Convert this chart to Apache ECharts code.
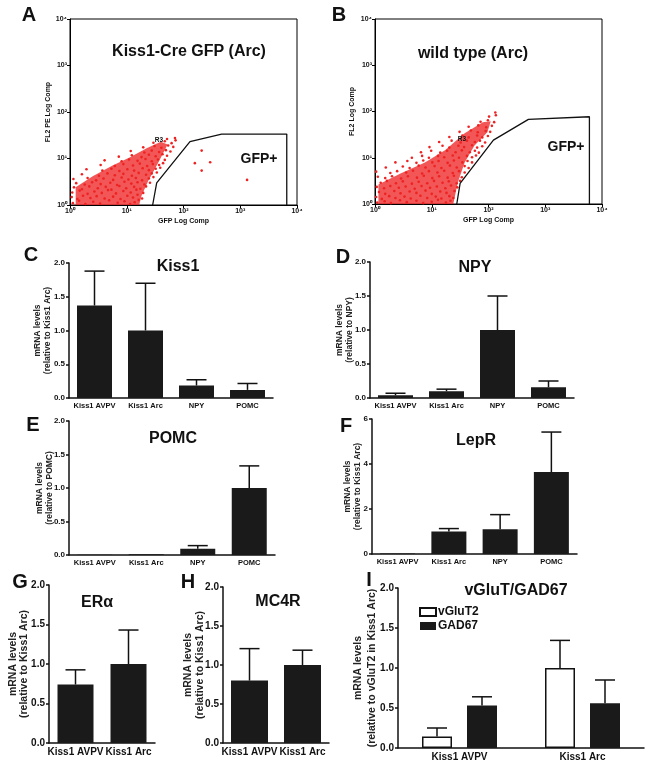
<!DOCTYPE html>
<html><head><meta charset="utf-8">
<script src="https://cdn.jsdelivr.net/npm/echarts@6/dist/echarts.min.js"></script>
<style>html,body{margin:0;padding:0;background:#fff}#c{width:649px;height:767px}</style>
</head><body><div id="c"></div>
<script>
// ---------- data ----------
const logTicks = ['10\u2070','10\u00B9','10\u00B2','10\u00B3','10\u2074'];
// gates (GFP+ region), data coordinates
const gateA = [[28.6,1],[33.7,3.0],[130,23],[470,33.6],[6600,33.6],[6600,1]];
const gateB = [[27.6,1],[31.6,2.8],[122,24],[505,67.5],[6000,77],[6000,1]];
// dense core outlines of the event clouds (log10 exponents)
const coreA = [[0.1,0],[0.1,0.38],[0.4,0.62],[0.75,0.85],[1.05,1.02],[1.35,1.22],[1.6,1.36],[1.72,1.3],[1.55,0.9],[1.38,0.52],[1.26,0.2],[1.22,0]];
const coreB = [[0.06,0],[0.06,0.42],[0.45,0.66],[0.88,0.9],[1.24,1.17],[1.58,1.53],[1.9,1.77],[2.04,1.79],[1.98,1.55],[1.75,1.26],[1.58,0.9],[1.46,0.47],[1.38,0]];
// individual events (log10 exponents)
const dotsA = [[0.05,0.04],[0.16,0.09],[0.27,0.02],[0.41,0.07],[0.53,0.03],[0.69,0.1],[0.84,0.05],[0.96,0.08],[1.06,0.02],[1.14,0.06],[1.21,0.11],
[0.03,0.17],[0.13,0.13],[0.23,0.2],[0.36,0.15],[0.47,0.19],[0.61,0.14],[0.76,0.18],[0.89,0.13],[1.01,0.2],[1.11,0.16],[1.19,0.22],[1.27,0.14],
[0.04,0.27],[0.17,0.31],[0.31,0.24],[0.43,0.29],[0.56,0.26],[0.67,0.32],[0.81,0.25],[0.94,0.3],[1.07,0.27],[1.17,0.33],[1.29,0.26],
[0.07,0.38],[0.21,0.34],[0.34,0.4],[0.49,0.36],[0.63,0.39],[0.73,0.33],[0.87,0.41],[0.99,0.36],[1.13,0.39],[1.24,0.35],[1.34,0.4],
[0.11,0.47],[0.26,0.44],[0.39,0.49],[0.54,0.45],[0.71,0.48],[0.83,0.43],[0.96,0.5],[1.08,0.46],[1.19,0.49],[1.31,0.44],[1.41,0.48],
[0.06,0.56],[0.31,0.58],[0.46,0.53],[0.59,0.57],[0.76,0.54],[0.91,0.59],[1.03,0.55],[1.16,0.58],[1.27,0.53],[1.39,0.57],[1.47,0.6],
[0.21,0.66],[0.51,0.63],[0.66,0.68],[0.79,0.64],[0.94,0.67],[1.09,0.63],[1.21,0.69],[1.34,0.65],[1.44,0.68],[1.53,0.7],
[0.29,0.77],[0.57,0.74],[0.73,0.78],[0.87,0.73],[1.01,0.77],[1.13,0.74],[1.28,0.79],[1.39,0.75],[1.51,0.78],[1.59,0.8],
[0.54,0.86],[0.79,0.84],[0.94,0.88],[1.11,0.85],[1.23,0.89],[1.36,0.84],[1.46,0.88],[1.57,0.86],[1.64,0.9],
[0.61,0.96],[0.91,0.94],[1.04,0.98],[1.19,0.95],[1.33,0.99],[1.44,0.94],[1.55,0.98],[1.67,0.97],
[0.86,1.04],[1.09,1.07],[1.26,1.03],[1.39,1.08],[1.51,1.05],[1.63,1.09],[1.71,1.06],
[1.07,1.16],[1.31,1.13],[1.44,1.17],[1.57,1.14],[1.69,1.18],[1.77,1.15],
[1.29,1.24],[1.49,1.27],[1.61,1.23],[1.73,1.28],[1.82,1.25],
[1.47,1.34],[1.67,1.37],[1.79,1.33],[1.86,1.39],[1.71,1.42],[1.85,1.44],
[2.32,1.17],[2.2,0.9],[2.47,0.92],[2.32,0.74],[3.12,0.54]];
const dotsB = [[0.04,0.03],[0.17,0.06],[0.28,0.02],[0.44,0.08],[0.56,0.04],[0.73,0.07],[0.85,0.02],[1.0,0.05],[1.11,0.09],[1.25,0.03],[1.33,0.07],
[0.02,0.15],[0.12,0.11],[0.25,0.17],[0.36,0.13],[0.52,0.16],[0.63,0.12],[0.8,0.18],[0.92,0.13],[1.07,0.16],[1.17,0.12],[1.31,0.17],[1.38,0.13],
[0.07,0.26],[0.18,0.22],[0.34,0.28],[0.45,0.23],[0.61,0.27],[0.73,0.24],[0.89,0.29],[1.0,0.22],[1.15,0.27],[1.26,0.24],[1.4,0.28],
[0.03,0.37],[0.16,0.34],[0.27,0.39],[0.42,0.35],[0.54,0.38],[0.7,0.33],[0.82,0.39],[0.97,0.35],[1.09,0.38],[1.24,0.34],[1.34,0.4],[1.45,0.36],
[0.1,0.46],[0.21,0.5],[0.37,0.45],[0.49,0.49],[0.65,0.44],[0.77,0.48],[0.92,0.45],[1.04,0.5],[1.19,0.46],[1.3,0.49],[1.44,0.45],[1.5,0.5],
[0.05,0.59],[0.18,0.56],[0.3,0.6],[0.46,0.55],[0.58,0.6],[0.74,0.57],[0.86,0.61],[1.01,0.56],[1.13,0.6],[1.28,0.57],[1.39,0.61],[1.53,0.58],
[0.02,0.7],[0.27,0.67],[0.39,0.71],[0.55,0.68],[0.67,0.72],[0.83,0.66],[0.95,0.71],[1.1,0.68],[1.22,0.72],[1.37,0.67],[1.48,0.71],[1.58,0.68],
[0.19,0.79],[0.49,0.81],[0.61,0.78],[0.77,0.83],[0.89,0.79],[1.05,0.82],[1.17,0.78],[1.32,0.83],[1.44,0.79],[1.58,0.82],[1.65,0.78],
[0.36,0.9],[0.57,0.93],[0.73,0.89],[0.85,0.94],[1.01,0.9],[1.12,0.93],[1.28,0.89],[1.39,0.94],[1.54,0.9],[1.63,0.93],[1.71,0.9],
[0.65,1.0],[0.83,1.04],[0.95,1.0],[1.11,1.04],[1.22,1.01],[1.37,1.05],[1.48,1.0],[1.62,1.04],[1.71,1.01],[1.78,1.05],
[0.81,1.12],[0.99,1.15],[1.15,1.11],[1.27,1.15],[1.42,1.12],[1.53,1.16],[1.67,1.12],[1.76,1.15],[1.83,1.11],
[0.96,1.23],[1.19,1.26],[1.31,1.22],[1.47,1.26],[1.57,1.23],[1.71,1.27],[1.8,1.22],[1.89,1.25],
[1.13,1.34],[1.35,1.37],[1.51,1.33],[1.62,1.37],[1.76,1.34],[1.85,1.37],[1.94,1.33],
[1.31,1.45],[1.54,1.48],[1.65,1.44],[1.8,1.48],[1.89,1.44],[1.99,1.47],
[1.49,1.56],[1.69,1.59],[1.81,1.55],[1.95,1.58],[2.03,1.56],
[1.65,1.67],[1.82,1.7],[1.96,1.66],[2.06,1.69],[1.86,1.78],[1.99,1.81],[2.1,1.77],[2.01,1.89],[2.13,1.92],[2.12,1.98]];

const cats4 = ['Kiss1 AVPV','Kiss1 Arc','NPY','POMC'];
const cats2 = ['Kiss1 AVPV','Kiss1 Arc'];
const kiss1Mean = [1.37, 1.0, 0.185, 0.12];
const kiss1Sem  = [0.51, 0.70, 0.085, 0.095];
const npyMean   = [0.04, 0.10, 1.0, 0.157];
const npySem    = [0.03, 0.03, 0.50, 0.093];
const pomcMean  = [0.003, 0.01, 0.094, 1.0];
const pomcSem   = [0, 0, 0.046, 0.33];
const leprMean  = [0.02, 1.0, 1.1, 3.64];
const leprSem   = [0, 0.13, 0.65, 1.78];
const eraMean   = [0.74, 1.0];
const eraSem    = [0.186, 0.43];
const mc4rMean  = [0.80, 1.0];
const mc4rSem   = [0.41, 0.19];
const vglut2Mean = [0.145, 1.0];
const vglut2Sem  = [0.105, 0.345];
const gad67Mean  = [0.53, 0.56];
const gad67Sem   = [0.11, 0.29];

// ---------- chart ----------
const FONT = '"Liberation Sans", Arial, Helvetica, sans-serif';
const INK = '#111';
const chart = echarts.init(document.getElementById('c'), null, {renderer:'canvas'});

const frame = {show:true, borderColor:'#000', borderWidth:1, backgroundColor:'transparent'};
const grids = [
  Object.assign({left:70, top:19, width:227, height:186}, frame),
  Object.assign({left:375, top:19, width:227, height:185}, frame),
  {left:69, top:263, width:204, height:135},
  {left:370, top:262, width:204, height:136},
  {left:69, top:421, width:206, height:134},
  {left:372, top:419, width:205, height:135},
  {left:49, top:585, width:106, height:158},
  {left:223, top:587, width:106, height:156},
  {left:398, top:588, width:246, height:160}
];

function logAxis(gi, isX, name, gap) {
  const a = {type:'log', logBase:10, gridIndex:gi, min:1, max:10000, splitNumber:4,
    name:name, nameLocation:'middle', nameGap:gap, nameMoveOverlap:false,
    nameTextStyle:{fontSize:7, fontWeight:'bold', fontFamily:FONT, color:INK},
    axisLine:{show:true, lineStyle:{color:'#000', width:1}},
    axisTick:{show:true, length:3, lineStyle:{color:'#000'}},
    minorTick:{show:false}, splitLine:{show:false},
    axisLabel:{fontSize:7, fontWeight:'bold', fontFamily:FONT, color:INK, margin:3, showMinLabel:true, showMaxLabel:true,
      formatter:v => logTicks[Math.round(Math.log10(v))]}};
  if (!isX) { a.nameRotate = 90; }
  return a;
}
function catAxis(gi, cats, fs) {
  return {type:'category', gridIndex:gi, data:cats,
    axisLine:{show:true, lineStyle:{color:INK, width:1.5}}, axisTick:{show:false},
    axisLabel:{fontSize:fs, fontWeight:'bold', fontFamily:FONT, color:INK, margin:4, interval:0}};
}
function valAxis(gi, max, step, dec, name, gap, fs, nfs, lh) {
  return {type:'value', gridIndex:gi, min:0, max:max, interval:step,
    name:name, nameLocation:'middle', nameRotate:90, nameGap:gap, nameMoveOverlap:false,
    nameTextStyle:{fontSize:nfs, fontWeight:'bold', fontFamily:FONT, color:'#222', lineHeight:lh, align:'center'},
    axisLine:{show:true, lineStyle:{color:INK, width:1.5}},
    axisTick:{show:true, length:3, lineStyle:{color:INK, width:1.5}},
    axisLabel:{fontSize:fs, fontWeight:'bold', fontFamily:FONT, color:INK, margin:4, formatter:v => v.toFixed(dec)},
    splitLine:{show:false}};
}

const xAxes = [
  logAxis(0, true, 'GFP Log Comp', 13),
  logAxis(1, true, 'GFP Log Comp', 13),
  catAxis(2, cats4, 7.5), catAxis(3, cats4, 7.5), catAxis(4, cats4, 7.5), catAxis(5, cats4, 7.5),
  catAxis(6, cats2, 10), catAxis(7, cats2, 10), catAxis(8, cats2, 10)
];
const yAxes = [
  logAxis(0, false, 'FL2 PE Log Comp', 18),
  logAxis(1, false, 'FL2 Log Comp', 19),
  valAxis(2, 2, 0.5, 1, 'mRNA levels\n(relative to Kiss1 Arc)', 16, 8, 8.5, 10),
  valAxis(3, 2, 0.5, 1, 'mRNA levels\n(relative to NPY)', 15, 8, 8.5, 10),
  valAxis(4, 2, 0.5, 1, 'mRNA levels\n(relative to POMC)', 14, 8, 8.5, 10),
  valAxis(5, 6, 2, 0, 'mRNA levels\n(relative to Kiss1 Arc)', 9, 8, 8.5, 10),
  valAxis(6, 2, 0.5, 1, 'mRNA levels\n(relative to Kiss1 Arc)', 19, 10, 10.5, 11),
  valAxis(7, 2, 0.5, 1, 'mRNA levels\n(relative to Kiss1 Arc)', 17, 10, 10.5, 12),
  valAxis(8, 2, 0.5, 1, 'mRNA levels\n(relative to vGluT2 in Kiss1 Arc)', 19, 10, 10.5, 14)
];

function toVal(p) { return [Math.pow(10, p[0]), Math.pow(10, p[1])]; }
function coreSeries(gi, core) {
  const pts = core.map(toVal);
  return {type:'custom', xAxisIndex:gi, yAxisIndex:gi, data:pts, silent:true, z:1,
    encode:{x:0, y:1},
    renderItem:function(params, api){
      if (params.dataIndex !== 0) return null;
      return {type:'polygon', shape:{points:pts.map(p => api.coord(p))},
        style:{fill:'rgba(238,38,38,0.78)', stroke:'none'}};
    }};
}
function dotSeries(gi, dots) {
  return {type:'scatter', xAxisIndex:gi, yAxisIndex:gi, data:dots.map(toVal), symbolSize:2.6,
    itemStyle:{color:'#ee2222', opacity:1}, silent:true, z:2};
}
function gateSeries(gi, gate) {
  return {type:'line', xAxisIndex:gi, yAxisIndex:gi, data:gate, symbol:'none', silent:true,
    lineStyle:{color:'#111', width:1.3}, z:5};
}
function errSeries(gi, mean, sem, offPx, name) {
  return {type:'custom', name:name, xAxisIndex:gi, yAxisIndex:gi, z:4, silent:true,
    data:mean.map((m,i) => [i, m, m + sem[i]]), encode:{x:0, y:[1,2]},
    renderItem:function(params, api){
      const m = api.value(1), hi = api.value(2);
      if (hi - m <= 1e-6) return null;
      const p0 = api.coord([api.value(0), m]);
      const p1 = api.coord([api.value(0), hi]);
      const x = p0[0] + offPx;
      const st = {stroke:INK, lineWidth:1.5};
      return {type:'group', children:[
        {type:'line', shape:{x1:x, y1:p0[1], x2:x, y2:p1[1]}, style:st},
        {type:'line', shape:{x1:x-10, y1:p1[1], x2:x+10, y2:p1[1]}, style:st}
      ]};
    }};
}
function barSeries(gi, mean, width, name, style) {
  return {type:'bar', name:name, xAxisIndex:gi, yAxisIndex:gi, data:mean, barWidth:width,
    barGap:'50%', itemStyle:style || {color:'#1a1a1a'}, z:3, silent:true};
}

const series = [
  coreSeries(0, coreA), dotSeries(0, dotsA), gateSeries(0, gateA),
  coreSeries(1, coreB), dotSeries(1, dotsB), gateSeries(1, gateB),
  barSeries(2, kiss1Mean, 35), errSeries(2, kiss1Mean, kiss1Sem, 0),
  barSeries(3, npyMean, 35), errSeries(3, npyMean, npySem, 0),
  barSeries(4, pomcMean, 35), errSeries(4, pomcMean, pomcSem, 0),
  barSeries(5, leprMean, 35), errSeries(5, leprMean, leprSem, 0),
  barSeries(6, eraMean, 36), errSeries(6, eraMean, eraSem, 0),
  barSeries(7, mc4rMean, 37), errSeries(7, mc4rMean, mc4rSem, 0),
  barSeries(8, vglut2Mean, 30, 'vGluT2', {color:'#ffffff', borderColor:INK, borderWidth:1.5}),
  barSeries(8, gad67Mean, 30, 'GAD67', {color:'#1a1a1a'}),
  errSeries(8, vglut2Mean, vglut2Sem, -22.5), errSeries(8, gad67Mean, gad67Sem, 22.5)
];

function txt(x, y, s, size, fam) {
  return {type:'text', x:x, y:y, silent:true, z:100,
    style:{text:s, fontSize:size, fontWeight:'bold', fontFamily:fam || FONT, fill:INK, align:'center', verticalAlign:'middle'}};
}
const graphics = [
  txt(29, 15, 'A', 20), txt(339, 15, 'B', 20), txt(31, 255, 'C', 20), txt(343, 257, 'D', 20),
  txt(33, 425, 'E', 20), txt(346, 426, 'F', 20), txt(20, 582, 'G', 20), txt(188, 582, 'H', 20), txt(369, 580, 'I', 20),
  txt(189, 52, 'Kiss1-Cre GFP (Arc)', 16), txt(473, 54, 'wild type (Arc)', 16),
  txt(259, 159, 'GFP+', 14), txt(566, 147, 'GFP+', 14),
  txt(159, 140.5, 'R3', 6.5), txt(462, 139.5, 'R3', 6.5),
  txt(178, 267, 'Kiss1', 16), txt(475, 268, 'NPY', 16), txt(173, 439, 'POMC', 16), txt(476, 441, 'LepR', 16),
  txt(97, 603, 'ER\u03B1', 16), txt(278, 602, 'MC4R', 16), txt(516, 591, 'vGluT/GAD67', 16)
];

chart.setOption({
  animation:false,
  backgroundColor:'#fff',
  textStyle:{fontFamily:FONT},
  grid:grids, xAxis:xAxes, yAxis:yAxes, series:series, graphic:graphics,
  legend:{data:['vGluT2','GAD67'], orient:'vertical', left:414, top:601, itemWidth:16, itemHeight:8, itemGap:2,
    icon:'rect', selectedMode:false,
    textStyle:{fontSize:12, fontWeight:'bold', fontFamily:FONT, color:INK, padding:[0,0,0,-3]}}
});
</script></body></html>
